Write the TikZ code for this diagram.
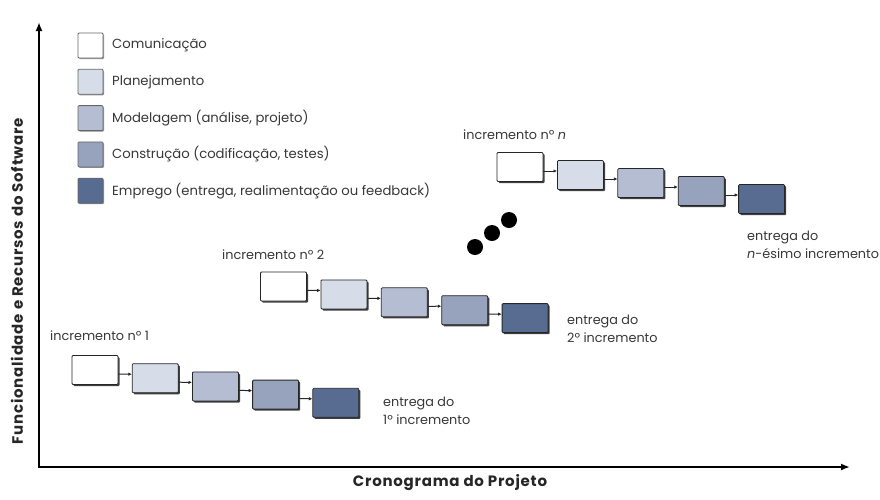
\documentclass[tikz,border=0pt]{standalone}
\usepackage{fontspec}
\setmainfont{Poppins}
\newfontfamily\axisfont[LetterSpace=5]{Poppins}
\usepackage{tikz}
\usepackage{xcolor}
\usetikzlibrary{shadows}
\usetikzlibrary{arrows.meta}

\definecolor{comm}{RGB}{255,255,255}
\definecolor{plan}{RGB}{214,221,232}
\definecolor{model}{RGB}{181,189,210}
\definecolor{constr}{RGB}{151,162,189}
\definecolor{deploy}{RGB}{88,108,145}
\definecolor{ink}{RGB}{55,55,55}

\tikzset{
  phase/.style={draw=black!85, line width=.8pt, rounded corners=1pt,
    minimum width=46pt, minimum height=29pt, inner sep=0pt, fill=#1,
    drop shadow={shadow xshift=1.6pt, shadow yshift=-1.6pt, fill=black!75, opacity=1}},
  key/.style={draw=black!60, line width=.8pt, rounded corners=1pt,
    minimum width=25pt, minimum height=25pt, inner sep=0pt, fill=#1,
    drop shadow={shadow xshift=1pt, shadow yshift=-1pt, fill=black!40, opacity=1}},
  lbl/.style={text=ink, inner sep=0pt, font=\fontsize{12.8}{17.5}\selectfont},
  keylbl/.style={text=ink, inner sep=0pt, font=\fontsize{13.2}{15}\selectfont},
  axislbl/.style={text=black!85, inner sep=0pt, font=\axisfont\fontsize{15}{17}\selectfont\bfseries},
  flow/.style={-{Latex[length=3.5pt,width=3.5pt]}, line width=1pt, black!85},
  dot/.style={circle, fill=black, minimum size=16pt, inner sep=0pt}
}

\begin{document}
\begin{tikzpicture}[x=1pt,y=-1pt]
  \useasboundingbox (0,0) rectangle (880,499);

  % axes
  \coordinate (ytop) at (39,22);
  \coordinate (xend) at (850,467);
  \draw[{Latex[length=9pt,width=7pt]}-{Latex[length=9pt,width=7pt]}, line width=2.4pt]
    (ytop) |- (xend);
  \node (ylab) [axislbl, rotate=90] at (17,281) {Funcionalidade e Recursos do Software};
  \node (xlab) [axislbl] at (450,483) {Cronograma do Projeto};

  % legend
  \path (90.5,45.5)
    node (k1) [key=comm] {} ++(21.5,0)
    node (t1) [keylbl, right] {Comunicação} ++(-21.5,36.3)
    node (k2) [key=plan] {} ++(21.5,0)
    node (t2) [keylbl, right] {Planejamento} ++(-21.5,36.3)
    node (k3) [key=model] {} ++(21.5,0)
    node (t3) [keylbl, right] {Modelagem (análise, projeto)} ++(-21.5,36.3)
    node (k4) [key=constr] {} ++(21.5,0)
    node (t4) [keylbl, right] {Construção (codificação, testes)} ++(-21.5,36.3)
    node (k5) [key=deploy] {} ++(21.5,0)
    node (t5) [keylbl, right] {Emprego (entrega, realimentação ou feedback)};

  % increment 1
  \node (inc1) [lbl, right] at (50,336) {incremento nº 1};
  \path (95,370)
    node (a1) [phase=comm] {} ++(60.2,8.2)
    node (a2) [phase=plan] {} ++(60.2,8.2)
    node (a3) [phase=model] {} ++(60.2,8.2)
    node (a4) [phase=constr] {} ++(60.2,8.2)
    node (a5) [phase=deploy] {};
  \node (out1) [lbl, right, align=left] at (383,411) {entrega do\\1º incremento};
  \draw[flow] ([yshift=-4pt]a1.east) -- ([yshift=4pt]a2.west);
  \draw[flow] ([yshift=-4pt]a2.east) -- ([yshift=4pt]a3.west);
  \draw[flow] ([yshift=-4pt]a3.east) -- ([yshift=4pt]a4.west);
  \draw[flow] ([yshift=-4pt]a4.east) -- ([yshift=4pt]a5.west);

  % increment 2
  \node (inc2) [lbl, right] at (222,255) {incremento nº 2};
  \path (283.5,286.5)
    node (b1) [phase=comm] {} ++(60.4,7.9)
    node (b2) [phase=plan] {} ++(60.4,7.9)
    node (b3) [phase=model] {} ++(60.4,7.9)
    node (b4) [phase=constr] {} ++(60.4,7.9)
    node (b5) [phase=deploy] {};
  \node (out2) [lbl, right, align=left] at (567,329) {entrega do\\2º incremento};
  \draw[flow] ([yshift=-4pt]b1.east) -- ([yshift=4pt]b2.west);
  \draw[flow] ([yshift=-4pt]b2.east) -- ([yshift=4pt]b3.west);
  \draw[flow] ([yshift=-4pt]b3.east) -- ([yshift=4pt]b4.west);
  \draw[flow] ([yshift=-4pt]b4.east) -- ([yshift=4pt]b5.west);

  % ... and so on
  \node (d1) [dot] at (475,247) {};
  \node (d2) [dot] at (492,233) {};
  \node (d3) [dot] at (509,220) {};

  % increment n
  \node (incn) [lbl, right] at (463,135) {incremento nº \emph{n}};
  \path (520,167)
    node (n1) [phase=comm] {} ++(60.4,8)
    node (n2) [phase=plan] {} ++(60.4,8)
    node (n3) [phase=model] {} ++(60.4,8)
    node (n4) [phase=constr] {} ++(60.4,8)
    node (n5) [phase=deploy] {};
  \node (outn) [lbl, right, align=left] at (747,245) {entrega do\\\emph{n}-ésimo incremento};
  \draw[flow] ([yshift=-4pt]n1.east) -- ([yshift=4pt]n2.west);
  \draw[flow] ([yshift=-4pt]n2.east) -- ([yshift=4pt]n3.west);
  \draw[flow] ([yshift=-4pt]n3.east) -- ([yshift=4pt]n4.west);
  \draw[flow] ([yshift=-4pt]n4.east) -- ([yshift=4pt]n5.west);
\end{tikzpicture}
\end{document}
